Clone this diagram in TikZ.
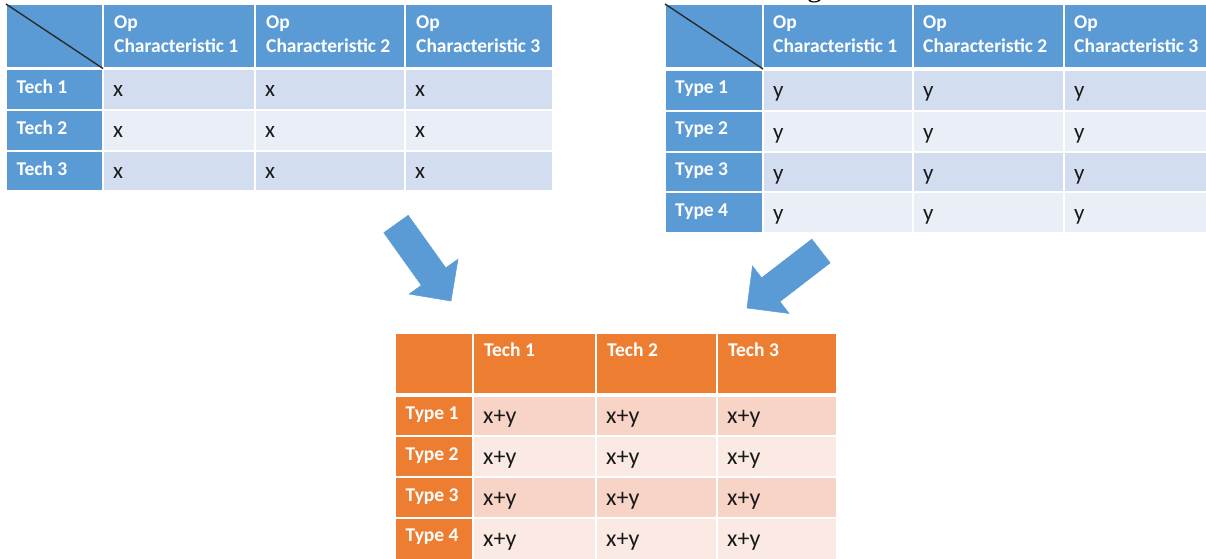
\documentclass[tikz,border=0pt]{standalone}
\usepackage{fontspec}
\setmainfont{Carlito}
\newfontfamily\serifpart{Liberation Serif}
\usetikzlibrary{calc}

\definecolor{hdrblue}{HTML}{5B9BD5}
\definecolor{bandblueA}{HTML}{D2DEEF}
\definecolor{bandblueB}{HTML}{E9EEF7}
\definecolor{hdrorange}{HTML}{ED7D31}
\definecolor{bandorangeA}{HTML}{F8D4C7}
\definecolor{bandorangeB}{HTML}{FBEAE4}
\definecolor{arrowblue}{HTML}{5B9BD5}
\definecolor{slash}{HTML}{2A2A2A}

\tikzset{
  cell/.style={rectangle, inner sep=0pt, outer sep=0pt, anchor=north west,
    draw=white, line width=2pt},
  hdrtxt/.style={anchor=base west, inner sep=0pt, text=white,
    font=\bfseries\fontsize{19.5}{23}\selectfont},
  bodytxt/.style={anchor=base west, inner sep=0pt, text=black!90,
    font=\fontsize{23}{27}\selectfont},
  sumtxt/.style={anchor=base west, inner sep=0pt, text=black!90,
    font=\fontsize{24}{28}\selectfont},
  divider/.style={white, line width=3.5pt},
  diag/.style={slash, line width=1.4pt},
  fatfill/.style={fill=arrowblue, draw=arrowblue, line width=0.5pt, line join=miter},
}

% block arrow from a named tail coordinate to a named tip coordinate
\newcommand\fatarrow[2]{%
  \coordinate (#1-neck) at ($(#2)!30pt!(#1)$);
  \path[fatfill]
    ($(#1)!15pt!90:(#2)$) -- ($(#1-neck)!15pt!90:(#2)$) -- ($(#1-neck)!30pt!90:(#2)$)
    -- (#2) -- ($(#1-neck)!30pt!-90:(#2)$) -- ($(#1-neck)!15pt!-90:(#2)$)
    -- ($(#1)!15pt!-90:(#2)$) -- cycle;
}

\begin{document}
\begin{tikzpicture}[x=1pt, y=-1pt]
\useasboundingbox (0,0) rectangle (1206,558);

% ---------- technologies vs. operating characteristics ----------
\foreach \c/\xa/\xb in {0/6/103, 1/103/255, 2/255/405, 3/405/553}{
  \foreach \r/\ya/\yb/\band in {0/4/68.5/hdrblue, 1/68.5/109.5/bandblueA,
                                2/109.5/150.5/bandblueB, 3/150.5/191/bandblueA}{
    \ifnum\c=0 \def\fillc{hdrblue}\else\edef\fillc{\band}\fi
    \node[cell, fill=\fillc, minimum width=\xb-\xa, minimum height=\yb-\ya] (L-\r-\c) at (\xa,\ya) {};
  }
}
\draw[divider] (L-0-0.south west) -- (L-0-3.south east);
\draw[diag] (L-0-0.north west) -- (L-0-0.south east);
\foreach \c in {1,2,3}{
  \node[hdrtxt] (L-op-\c) at ($(L-0-\c.north west)+(11,24)$) {Op};
  \node[hdrtxt] (L-ch-\c) at ($(L-0-\c.north west)+(11,48)$) {Characteristic \c};
}
\foreach \r in {1,2,3}{
  \node[hdrtxt] (L-lab-\r) at ($(L-\r-0.north west)+(10.5,24.5)$) {Tech \r};
  \foreach \c in {1,2,3}
    \node[bodytxt] (L-v-\r-\c) at ($(L-\r-\c.north west)+(10,28)$) {x};
}

% ---------- types vs. operating characteristics ----------
\foreach \c/\xa/\xb in {0/665/763, 1/763/913, 2/913/1064, 3/1064/1209}{
  \foreach \r/\ya/\yb/\band in {0/4/69/hdrblue, 1/69/110.5/bandblueA,
                                2/110.5/151.5/bandblueB, 3/151.5/192/bandblueA,
                                4/192/232.5/bandblueB}{
    \ifnum\c=0 \def\fillc{hdrblue}\else\edef\fillc{\band}\fi
    \node[cell, fill=\fillc, minimum width=\xb-\xa, minimum height=\yb-\ya] (R-\r-\c) at (\xa,\ya) {};
  }
}
\draw[divider] (R-0-0.south west) -- (R-0-3.south east);
\draw[diag] (R-0-0.north west) -- (R-0-0.south east);
\foreach \c in {1,2,3}{
  \node[hdrtxt] (R-op-\c) at ($(R-0-\c.north west)+(10,24)$) {Op};
  \node[hdrtxt] (R-ch-\c) at ($(R-0-\c.north west)+(10,48)$) {Characteristic \c};
}
\foreach \r in {1,2,3,4}{
  \node[hdrtxt] (R-lab-\r) at ($(R-\r-0.north west)+(10,24)$) {Type \r};
  \foreach \c in {1,2,3}
    \node[bodytxt] (R-v-\r-\c) at ($(R-\r-\c.north west)+(10,28.5)$) {y};
}

% ---------- combined result ----------
\foreach \c/\xa/\xb in {0/395/473, 1/473/596, 2/596/717, 3/717/837}{
  \foreach \r/\ya/\yb/\band in {0/333/395/hdrorange, 1/395/436/bandorangeA,
                                2/436/477/bandorangeB, 3/477/517.5/bandorangeA,
                                4/517.5/560/bandorangeB}{
    \ifnum\c=0 \def\fillc{hdrorange}\else\edef\fillc{\band}\fi
    \node[cell, fill=\fillc, minimum width=\xb-\xa, minimum height=\yb-\ya] (S-\r-\c) at (\xa,\ya) {};
  }
}
\draw[divider] (S-0-0.south west) -- (S-0-3.south east);
\foreach \c in {1,2,3}
  \node[hdrtxt] (S-tech-\c) at ($(S-0-\c.north west)+(11,23)$) {Tech \c};
\foreach \r in {1,2,3,4}{
  \node[hdrtxt] (S-lab-\r) at ($(S-\r-0.north west)+(10.5,24)$) {Type \r};
  \foreach \c in {1,2,3}
    \node[sumtxt] (S-v-\r-\c) at ($(S-\r-\c.north west)+(10,28.5)$) {x+y};
}

% ---------- arrows into the combined table ----------
\coordinate (la-tail) at (396,224);
\coordinate (la-tip) at (451,301);
\fatarrow{la-tail}{la-tip}
\coordinate (ra-tail) at (821,251);
\coordinate (ra-tip) at (747,308);
\fatarrow{ra-tail}{ra-tip}

% descender of a caption line above the page edge
\node[anchor=base west, inner sep=0pt, font=\serifpart\fontsize{30}{34}\selectfont] (capfrag) at (807,-4) {g};
\end{tikzpicture}
\end{document}
